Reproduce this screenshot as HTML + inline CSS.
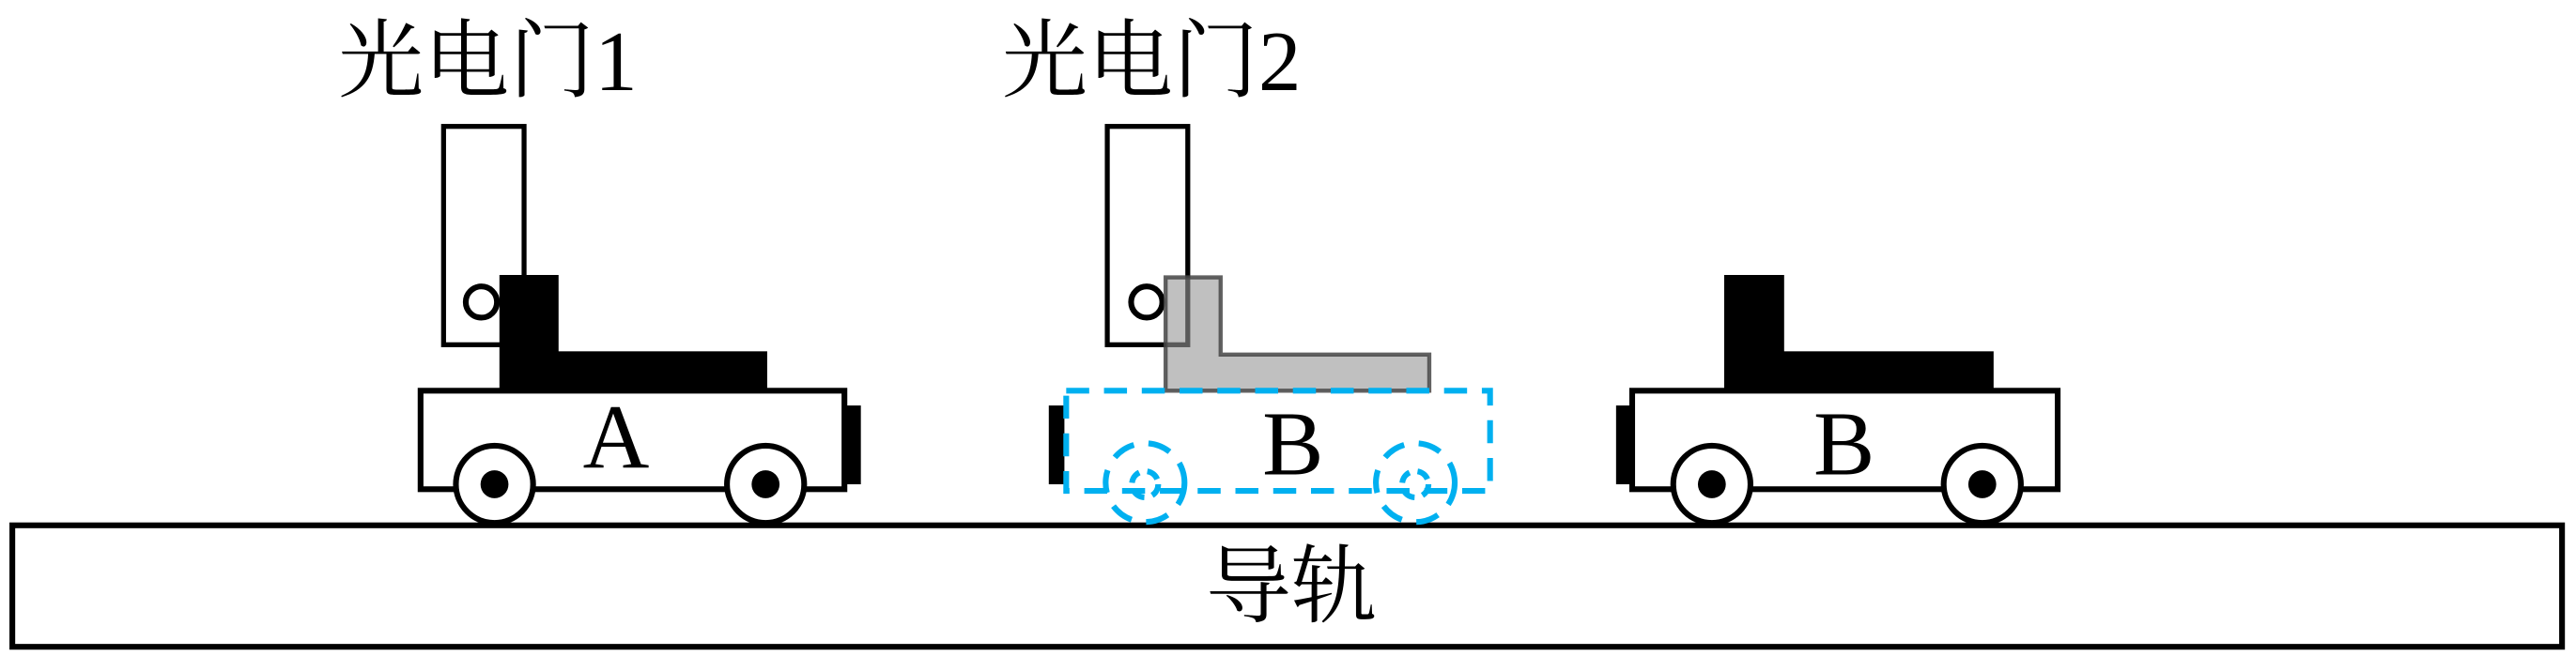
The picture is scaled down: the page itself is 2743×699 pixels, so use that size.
<!DOCTYPE html>
<html><head><meta charset="utf-8"><style>html,body{margin:0;padding:0;background:#fff}svg{display:block}</style></head>
<body>
<svg width="2743" height="699" viewBox="0 0 1568 399.6" preserveAspectRatio="none" xmlns="http://www.w3.org/2000/svg">
<g font-family="'Liberation Serif','Noto Serif CJK SC',serif" fill="#000">
<text x="206" y="55" font-size="52">光电门1</text>
<text x="610" y="55" font-size="52">光电门2</text>
<text x="734" y="375" font-size="52">导轨</text>
</g>
<rect x="7.5" y="320" width="1552" height="74" fill="none" stroke="#000" stroke-width="3.5"/>
<rect x="270" y="77" width="49" height="133" fill="#fff" stroke="#000" stroke-width="3"/>
<rect x="304" y="167.5" width="36" height="70" fill="#000"/>
<rect x="338" y="214" width="129" height="23.5" fill="#000"/>
<circle cx="293" cy="184" r="9.5" fill="#fff" stroke="#000" stroke-width="3.5"/>
<rect x="256" y="238" width="258" height="60" fill="#fff" stroke="#000" stroke-width="3.5"/>
<rect x="515.5" y="247" width="8.5" height="48" fill="#000"/>
<text x="375" y="285" font-family="'Liberation Serif',serif" font-size="56" text-anchor="middle">A</text>
<g stroke="#000" stroke-width="3.5" fill="#fff">
<circle cx="301" cy="295" r="23.5"/><circle cx="466" cy="295" r="23.5"/>
</g>
<circle cx="301" cy="295" r="8.5"/><circle cx="466" cy="295" r="8.5"/>
<rect x="674" y="77" width="49" height="133" fill="#fff" stroke="#000" stroke-width="3"/>
<circle cx="698" cy="184" r="9.5" fill="#fff" stroke="#000" stroke-width="3.5"/>
<path d="M709.5 169 H743 V216 H870 V238 H709.5 Z" fill="rgba(150,150,150,0.6)" stroke="rgba(70,70,70,0.85)" stroke-width="2.5"/>
<rect x="638.4" y="247" width="9.5" height="48" fill="#000"/>
<g fill="none" stroke="#00b0f0" stroke-width="3.5" stroke-dasharray="14 9">
<rect x="649" y="238" width="258" height="61"/>
<circle cx="697" cy="294" r="24"/><circle cx="861.5" cy="294" r="24"/>
<circle cx="697" cy="295" r="8" stroke-dasharray="8 5"/><circle cx="861.5" cy="295" r="8" stroke-dasharray="8 5"/>
</g>
<text x="787" y="289" font-family="'Liberation Serif',serif" font-size="56" text-anchor="middle">B</text>
<rect x="1049.5" y="167.5" width="36.5" height="70" fill="#000"/>
<rect x="1084" y="214" width="129.5" height="23.5" fill="#000"/>
<rect x="993.5" y="238" width="259" height="60" fill="#fff" stroke="#000" stroke-width="3.5"/>
<rect x="983.7" y="247" width="9" height="48" fill="#000"/>
<text x="1122.5" y="289" font-family="'Liberation Serif',serif" font-size="56" text-anchor="middle">B</text>
<g stroke="#000" stroke-width="3.5" fill="#fff">
<circle cx="1042" cy="295" r="23.5"/><circle cx="1206.6" cy="295" r="23.5"/>
</g>
<circle cx="1042" cy="295" r="8.5"/><circle cx="1206.6" cy="295" r="8.5"/>
</svg>
</body></html>
